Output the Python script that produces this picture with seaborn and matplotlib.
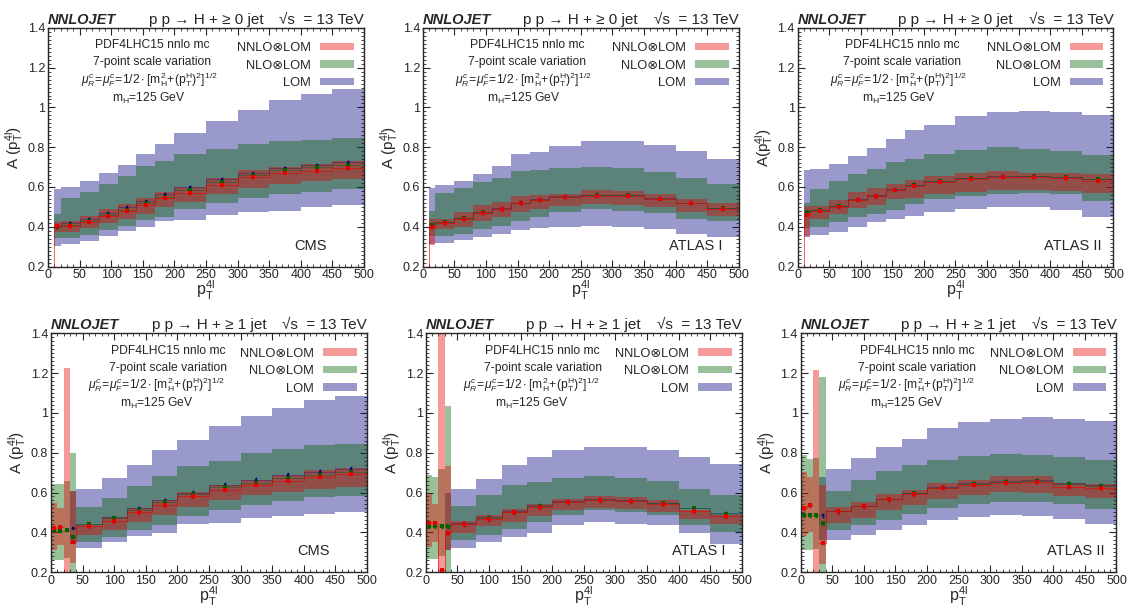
import numpy as np
import matplotlib
matplotlib.use("Agg")
import matplotlib.pyplot as plt
from matplotlib.patches import Patch
from matplotlib.ticker import MultipleLocator, FuncFormatter
import seaborn as sns

nan = np.nan

# bin edges (pT^4l, GeV)
top_edges = [0, 10, 20, 50, 80, 110, 140, 170, 200, 250, 300, 350, 400, 450, 500]
bot_edges = [0, 10, 20, 30, 40, 80, 120, 160, 200, 250, 300, 350, 400, 450, 500]

# ---- H + >= 0 jet, CMS
cms0_lom_hi = [nan, .588, .600, .630, .672, .713, .768, .818, .872, .930, .985, 1.038, 1.068, 1.092]
cms0_lom_lo = [nan, .305, .313, .330, .352, .377, .397, .427, .435, .458, .472, .480, .497, .508]
cms0_nlo_hi = [nan, .463, .543, .577, .617, .655, .705, .730, .767, .792, .817, .830, .838, .847]
cms0_nlo_lo = [nan, .342, .342, .360, .383, .405, .435, .450, .488, .522, .543, .563, .577, .588]
cms0_nnlo_hi = [nan, .425, .427, .455, .488, .517, .543, .577, .602, .647, .683, .702, .717, .730]
cms0_nnlo_lo = [nan, .375, .375, .392, .418, .438, .463, .497, .525, .567, .597, .617, .630, .638]
cms0_nnlo_c = [0.0, .405, .405, .425, .455, .480, .510, .545, .570, .610, .650, .670, .680, .695]
cms0_nlo_c = [nan, .400, .410, .430, .460, .485, .520, .550, .585, .625, .660, .685, .700, .710]
cms0_lom_c = [nan, .400, .420, .440, .470, .500, .530, .565, .600, .640, .670, .695, .710, .725]

# ---- H + >= 0 jet, ATLAS I
atl10_lom_hi = [nan, .597, .608, .630, .663, .705, .768, .775, .805, .830, .830, .810, .780, .742]
atl10_lom_lo = [nan, .313, .317, .335, .347, .363, .383, .393, .397, .402, .397, .388, .363, .347]
atl10_nlo_hi = [nan, .478, .568, .597, .627, .647, .680, .683, .697, .702, .697, .675, .647, .613]
atl10_nlo_lo = [nan, .352, .352, .363, .388, .405, .430, .447, .472, .488, .480, .467, .438, .430]
atl10_nnlo_hi = [nan, .438, .438, .472, .510, .525, .555, .558, .567, .583, .580, .563, .542, .522]
atl10_nnlo_lo = [nan, .310, .388, .397, .430, .447, .472, .488, .505, .513, .508, .497, .472, .452]
atl10_nnlo_c = [0.0, .400, .420, .440, .470, .487, .518, .535, .550, .557, .557, .540, .518, .490]
atl10_nlo_c = [nan, .410, .422, .442, .472, .490, .520, .537, .552, .560, .558, .542, .520, .492]
atl10_lom_c = [nan, .415, .425, .445, .475, .492, .522, .540, .555, .562, .560, .545, .522, .495]

# ---- H + >= 0 jet, ATLAS II
atl20_lom_hi = [nan, .683, .692, .717, .755, .797, .842, .888, .913, .955, .975, .980, .977, .960]
atl20_lom_lo = [nan, .347, .358, .375, .397, .422, .438, .455, .472, .488, .497, .497, .485, .450]
atl20_nlo_hi = [nan, .522, .592, .630, .663, .692, .725, .742, .768, .785, .800, .792, .780, .763]
atl20_nlo_lo = [nan, .392, .397, .422, .447, .463, .485, .513, .538, .555, .567, .572, .563, .530]
atl20_nnlo_hi = [nan, .502, .505, .533, .575, .597, .617, .633, .655, .668, .680, .672, .672, .663]
atl20_nnlo_lo = [nan, .355, .438, .463, .493, .508, .538, .547, .563, .577, .583, .585, .580, .572]
atl20_nnlo_c = [0.0, .460, .480, .500, .535, .553, .585, .607, .625, .640, .650, .650, .643, .632]
atl20_nlo_c = [nan, .472, .483, .502, .537, .555, .587, .610, .628, .643, .652, .653, .648, .638]
atl20_lom_c = [nan, .475, .485, .505, .540, .558, .590, .612, .630, .645, .655, .655, .650, .640]

# ---- H + >= 1 jet, CMS
cms1_lom_hi = [nan, nan, nan, .610, .620, .673, .737, .813, .866, .934, .984, 1.026, 1.064, 1.085]
cms1_lom_lo = [nan, nan, nan, .340, .323, .351, .382, .398, .440, .449, .472, .480, .492, .502]
cms1_nlo_hi = [.645, .645, .660, .800, .526, .570, .633, .684, .732, .759, .798, .818, .838, .845]
cms1_nlo_lo = [.260, .260, .270, .180, .351, .376, .410, .435, .482, .511, .536, .556, .578, .581]
cms1_nnlo_hi = [.549, .520, 1.227, .610, .435, .477, .524, .561, .603, .637, .662, .687, .712, .724]
cms1_nnlo_lo = [.310, .335, .150, .245, .385, .410, .452, .486, .528, .561, .586, .603, .620, .628]
cms1_nnlo_c = [.420, .425, nan, .350, .430, .455, .500, .535, .580, .615, .640, .660, .680, .695]
cms1_nlo_c = [.410, .405, .410, .375, .440, .470, .510, .550, .590, .630, .650, .675, .690, .705]
cms1_lom_c = [nan, nan, nan, .420, .440, .475, .520, .560, .600, .640, .665, .690, .705, .720]

# ---- H + >= 1 jet, ATLAS I
atl11_lom_hi = [nan, nan, nan, .600, .620, .670, .737, .778, .813, .830, .830, .816, .778, .745]
atl11_lom_lo = [nan, nan, nan, .310, .321, .351, .376, .398, .435, .452, .444, .435, .398, .343]
atl11_nlo_hi = [.687, .678, .720, 1.035, .531, .586, .637, .653, .673, .682, .673, .657, .620, .586]
atl11_nlo_lo = [.267, .267, .280, .150, .360, .388, .418, .452, .486, .511, .502, .486, .435, .400]
atl11_nnlo_hi = [.590, .540, 1.500, .734, .455, .489, .519, .541, .569, .581, .578, .561, .511, .486]
atl11_nnlo_lo = [.326, .350, .150, .310, .398, .430, .452, .480, .514, .524, .519, .502, .469, .444]
atl11_nnlo_c = [.445, .445, .210, .395, .440, .465, .500, .525, .550, .560, .555, .540, .505, .480]
atl11_nlo_c = [.430, .430, .430, .430, .440, .470, .500, .530, .550, .560, .555, .545, .520, .490]
atl11_lom_c = [nan, nan, nan, .430, .445, .475, .505, .535, .555, .565, .560, .548, .522, .495]

# ---- H + >= 1 jet, ATLAS II
atl21_lom_hi = [nan, nan, nan, .680, .717, .771, .830, .868, .922, .955, .972, .980, .972, .959]
atl21_lom_lo = [nan, nan, nan, .360, .360, .388, .413, .435, .460, .477, .486, .481, .469, .444]
atl21_nlo_hi = [.787, .770, .775, 1.180, .608, .662, .707, .737, .762, .784, .793, .787, .776, .761]
atl21_nlo_lo = [.312, .312, .315, .150, .410, .435, .460, .494, .524, .544, .553, .553, .544, .519]
atl21_nnlo_hi = [.703, .680, 1.215, .637, .528, .553, .590, .611, .650, .665, .682, .682, .648, .645]
atl21_nnlo_lo = [.381, .400, .150, .242, .447, .472, .511, .536, .566, .586, .603, .600, .583, .573]
atl21_nnlo_c = [.520, .535, nan, .345, .505, .530, .565, .590, .625, .640, .650, .655, .630, .625]
atl21_nlo_c = [.485, .485, .485, .445, .505, .530, .565, .595, .625, .645, .655, .660, .645, .635]
atl21_lom_c = [nan, nan, nan, .485, .505, .532, .568, .598, .628, .648, .658, .662, .648, .638]

c_lom = (0.0, 0.0, 0.5)
c_nlo = (0.0, 0.39, 0.0)
c_nnlo = (0.9, 0.0, 0.0)
band_alpha = 0.4

sns.set_theme(style="ticks")
plt.rcParams["font.family"] = ["Liberation Sans", "DejaVu Sans"]
plt.rcParams["mathtext.fontset"] = "custom"
plt.rcParams["mathtext.rm"] = "Liberation Sans"
plt.rcParams["mathtext.it"] = "Liberation Sans:italic"
plt.rcParams["mathtext.bf"] = "Liberation Sans:bold"

mu_txt = r"$\mu_R^c\!=\!\mu_F^c\!=\!\mathregular{1/2\cdot[m_H^2\!+\!(p_T^H)^2]^{1/2}}$"


def draw_panel(ax, edges, lom, nlo, nnlo, njet, exp, text_x, ylab):
    edges = np.array(edges, dtype=float)
    centers = 0.5 * (edges[:-1] + edges[1:])
    orders = [lom, nlo, nnlo]
    cols = [c_lom, c_nlo, c_nnlo]
    for (lo, hi, c), col in zip(orders, cols):
        lo = np.append(lo, lo[-1])
        hi = np.append(hi, hi[-1])
        ax.fill_between(edges, lo, hi, step="post", color=col, alpha=band_alpha, lw=0)
    for (lo, hi, c), col, a in zip(orders, cols, [0.35, 0.45, 0.7]):
        ax.step(edges, np.append(c, c[-1]), where="post", color=col, lw=0.6, alpha=a)
    for (lo, hi, c), col, sz in zip(orders, cols, [4, 5, 7]):
        ax.errorbar(centers, c, yerr=0.006, fmt="none", ecolor=col, elinewidth=0.7, capsize=1.0)
        sns.scatterplot(x=centers, y=c, color=col, marker="s", s=sz, linewidth=0, ax=ax, zorder=5)

    ax.set_xlim(0, 500)
    ax.set_ylim(0.2, 1.4)
    ax.xaxis.set_major_locator(MultipleLocator(50))
    ax.xaxis.set_minor_locator(MultipleLocator(10))
    ax.yaxis.set_major_locator(MultipleLocator(0.2))
    ax.yaxis.set_minor_locator(MultipleLocator(0.02))
    ax.yaxis.set_major_formatter(FuncFormatter(lambda v, p: f"{v:g}"))
    ax.tick_params(which="both", direction="in", top=True, right=True, labelsize=9, pad=2)
    ax.tick_params(which="major", length=5, width=0.8)
    ax.tick_params(which="minor", length=2.5, width=0.6)
    for s in ax.spines.values():
        s.set_linewidth(1.0)

    ax.set_xlabel(r"$\mathregular{p_T^{4l}}$", fontsize=11.5, labelpad=-1.5)
    ax.set_ylabel(ylab, fontsize=11, labelpad=2)
    ax.set_title("NNLOJET", loc="left", fontsize=10.5, fontweight="bold", style="italic", pad=3)
    ax.set_title(f"p p → H + ≥ {njet} jet", loc="center", fontsize=11, pad=3)
    ax.set_title("√s  = 13 TeV", loc="right", fontsize=11, pad=3)

    tx = ax.transAxes
    ax.text(text_x[0], 0.928, "PDF4LHC15 nnlo mc", transform=tx, ha="center", va="center", fontsize=8.7)
    ax.text(text_x[0], 0.855, "7-point scale variation", transform=tx, ha="center", va="center", fontsize=8.7)
    ax.text(text_x[1], 0.785, mu_txt, transform=tx, ha="center", va="center", fontsize=8.7)
    ax.text(text_x[1], 0.706, r"$\mathregular{m_H}$=125 GeV", transform=tx, ha="center", va="center", fontsize=8.7)
    ax.text(0.78, 0.087, exp, transform=tx, ha="left", va="center", fontsize=10.5)

    handles = [Patch(facecolor=c_nnlo, alpha=band_alpha, lw=0),
               Patch(facecolor=c_nlo, alpha=band_alpha, lw=0),
               Patch(facecolor=c_lom, alpha=band_alpha, lw=0)]
    ax.legend(handles, ["NNLO⊗LOM", "NLO⊗LOM", "LOM"], loc="upper right",
              bbox_to_anchor=(0.968, 0.94), frameon=False, markerfirst=False,
              fontsize=9.3, handlelength=2.6, handleheight=0.5, handletextpad=0.7,
              labelspacing=0.42, borderpad=0, borderaxespad=0)


fig, axes = plt.subplots(2, 3, figsize=(11.27, 6.06), dpi=100)
fig.subplots_adjust(left=0.0426, right=0.988, bottom=0.056, top=0.954, wspace=0.186, hspace=0.28)
for ax in axes[1]:
    p = ax.get_position()
    ax.set_position([p.x0 + 3 / 1127, p.y0, p.width, p.height])

ylab = r"A ($\mathregular{p_T^{4l}}$)"
ylab2 = r"A($\mathregular{p_T^{4l}}$)"
top_x = (0.33, 0.32)
bot_x = (0.37, 0.335)

draw_panel(axes[0, 0], top_edges,
           (cms0_lom_lo, cms0_lom_hi, cms0_lom_c), (cms0_nlo_lo, cms0_nlo_hi, cms0_nlo_c),
           (cms0_nnlo_lo, cms0_nnlo_hi, cms0_nnlo_c), 0, "CMS", top_x, ylab)
draw_panel(axes[0, 1], top_edges,
           (atl10_lom_lo, atl10_lom_hi, atl10_lom_c), (atl10_nlo_lo, atl10_nlo_hi, atl10_nlo_c),
           (atl10_nnlo_lo, atl10_nnlo_hi, atl10_nnlo_c), 0, "ATLAS I", top_x, ylab)
draw_panel(axes[0, 2], top_edges,
           (atl20_lom_lo, atl20_lom_hi, atl20_lom_c), (atl20_nlo_lo, atl20_nlo_hi, atl20_nlo_c),
           (atl20_nnlo_lo, atl20_nnlo_hi, atl20_nnlo_c), 0, "ATLAS II", top_x, ylab2)
draw_panel(axes[1, 0], bot_edges,
           (cms1_lom_lo, cms1_lom_hi, cms1_lom_c), (cms1_nlo_lo, cms1_nlo_hi, cms1_nlo_c),
           (cms1_nnlo_lo, cms1_nnlo_hi, cms1_nnlo_c), 1, "CMS", bot_x, ylab)
draw_panel(axes[1, 1], bot_edges,
           (atl11_lom_lo, atl11_lom_hi, atl11_lom_c), (atl11_nlo_lo, atl11_nlo_hi, atl11_nlo_c),
           (atl11_nnlo_lo, atl11_nnlo_hi, atl11_nnlo_c), 1, "ATLAS I", bot_x, ylab)
draw_panel(axes[1, 2], bot_edges,
           (atl21_lom_lo, atl21_lom_hi, atl21_lom_c), (atl21_nlo_lo, atl21_nlo_hi, atl21_nlo_c),
           (atl21_nnlo_lo, atl21_nnlo_hi, atl21_nnlo_c), 1, "ATLAS II", bot_x, ylab)

fig.savefig("out.png", dpi=100)
